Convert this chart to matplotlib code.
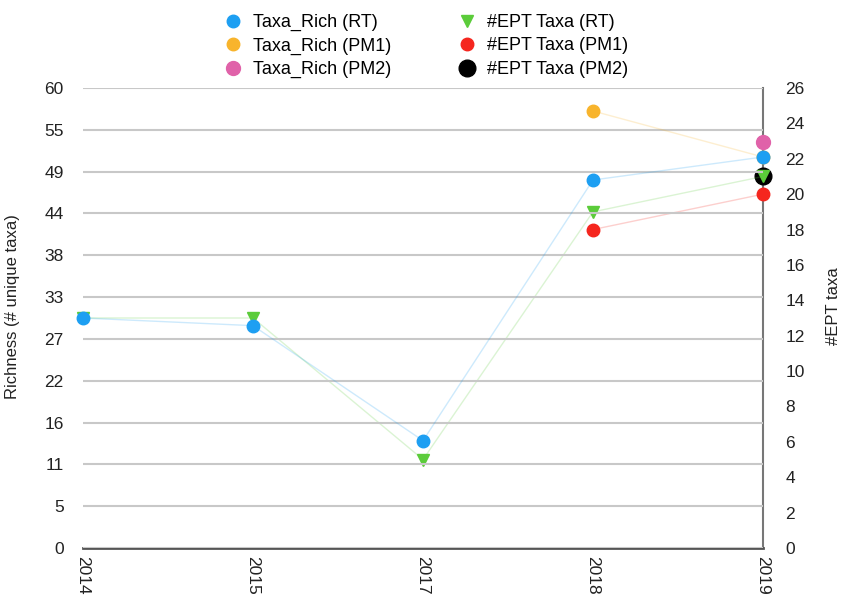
import numpy as np
import matplotlib
matplotlib.use("Agg")
import matplotlib.pyplot as plt
from matplotlib.lines import Line2D

plt.rcParams['font.family'] = ['Liberation Sans', 'DejaVu Sans']

years = ['2014', '2015', '2017', '2018', '2019']
nan = np.nan

# Left axis: taxa richness
rich_rt = [30, 29, 14, 48, 51]
rich_pm1 = [nan, nan, nan, 57, 51]
rich_pm2 = [nan, nan, nan, nan, 53]

# Right axis: #EPT taxa
ept_rt = [13, 13, 5, 19, 21]
ept_pm1 = [nan, nan, nan, 18, 20]
ept_pm2 = [nan, nan, nan, nan, 21]

left_ticks = np.linspace(0, 60, 12)
left_labels = [str(int(round(v))) for v in left_ticks]
right_ticks = list(range(0, 27, 2))

c_blue = '#1d9ff2'
c_orange = '#f8b42c'
c_pink = '#e062a9'
c_green = '#5bcc3a'
c_red = '#f5261e'
c_black = '#000000'

fig = plt.figure(figsize=(8.42, 5.99), dpi=100)
ax = fig.add_axes([83 / 842, 51 / 599, 680 / 842, 460 / 599])
ax2 = ax.twinx()
ax.set_zorder(ax2.get_zorder() + 1)
ax.patch.set_visible(False)

x = np.arange(len(years))


def series(a, vals, color, marker, ms, label, z):
    vals = np.array(vals, dtype=float)
    ok = ~np.isnan(vals)
    a.plot(x[ok], vals[ok], color=color, lw=1, alpha=0.22, zorder=z - 1)
    a.plot(x[ok], vals[ok], ls='none', marker=marker, ms=ms, color=color,
           mec=color, clip_on=False, zorder=z)
    return Line2D([], [], ls='none', marker=marker, ms=ms, color=color, mec=color, label=label)


h1 = series(ax, rich_rt, c_blue, 'o', 9, 'Taxa_Rich (RT)', 5)
h2 = series(ax, rich_pm1, c_orange, 'o', 9, 'Taxa_Rich (PM1)', 4)
h3 = series(ax, rich_pm2, c_pink, 'o', 10, 'Taxa_Rich (PM2)', 4)
h6 = series(ax2, ept_pm2, c_black, 'o', 12, '#EPT Taxa (PM2)', 3)
h4 = series(ax2, ept_rt, c_green, 'v', 9, '#EPT Taxa (RT)', 5)
h5 = series(ax2, ept_pm1, c_red, 'o', 9, '#EPT Taxa (PM1)', 4)

ax.set_xlim(0, 4)
ax.set_ylim(0, 60)
ax2.set_ylim(0, 26)

ax.set_yticks(left_ticks)
ax.set_yticklabels(left_labels)
ax2.set_yticks(right_ticks)
ax.set_xticks(x)
ax.set_xticklabels(years, rotation=270, ha='center', va='top')

ax.grid(axis='y', color='#c8c8c8', lw=1.5)
ax.set_axisbelow(True)

for a in (ax, ax2):
    for s in a.spines.values():
        s.set_visible(False)
ax2.spines['bottom'].set_visible(True)
ax2.spines['bottom'].set_color('#555555')
ax2.spines['bottom'].set_linewidth(2)
ax2.spines['right'].set_visible(True)
ax2.spines['right'].set_color('#777777')
ax2.spines['right'].set_linewidth(1.5)

ax.tick_params(axis='y', length=0, pad=14, labelsize=12.5, labelcolor='#222222')
ax2.tick_params(axis='y', length=0, pad=16, labelsize=12.5, labelcolor='#222222')
ax.tick_params(axis='x', length=0, pad=6, labelsize=12.5, labelcolor='#222222')

ax.set_ylabel('Richness (# unique taxa)', fontsize=12, color='#222222')
ax.yaxis.set_label_coords(-0.093, 0.524)
ax2.set_ylabel('#EPT taxa', fontsize=12, color='#222222')
ax2.yaxis.set_label_coords(1.093, 0.526)

fig.legend(handles=[h1, h2, h3, h4, h5, h6], ncol=2, loc='upper center',
           bbox_to_anchor=(0.505, 1.004), frameon=False, fontsize=13,
           handletextpad=0.5, columnspacing=3.6, labelspacing=0.36,
           handlelength=1.2)

fig.savefig('out.png', dpi=100)
